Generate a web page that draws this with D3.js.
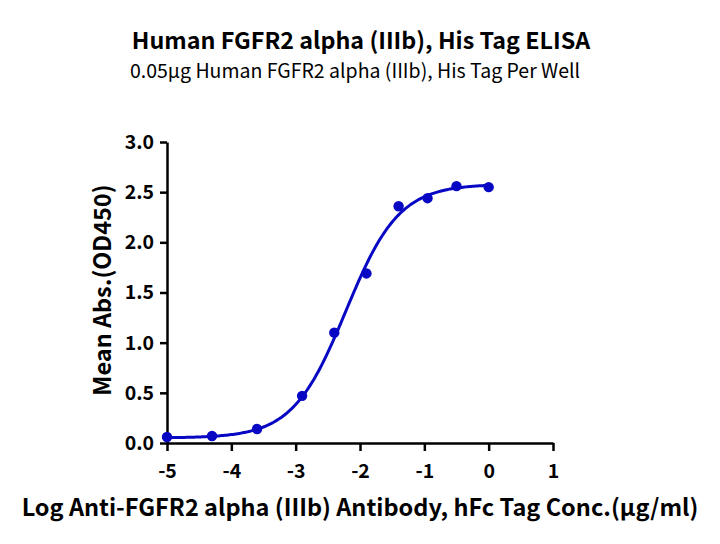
<!DOCTYPE html>
<html><head><meta charset="utf-8">
<script src="https://cdn.jsdelivr.net/npm/d3@7"></script>
<style>body{margin:0;background:#fff}svg{display:block}text{font-family:"Noto Sans CJK SC","Noto Sans",sans-serif}</style>
</head><body>
<script>
const logConc = [-5, -4.3, -3.6, -2.9, -2.4, -1.9, -1.4, -0.95, -0.5, 0];
const meanAbs = [0.06, 0.07, 0.14, 0.47, 1.10, 1.69, 2.36, 2.44, 2.56, 2.55];
const xTicks = [-5, -4, -3, -2, -1, 0, 1];
const yTicks = [0, 0.5, 1.0, 1.5, 2.0, 2.5, 3.0];
// 4PL fit parameters
const fitBottom = 0.05, fitTop = 2.58, fitLogEC50 = -2.22, fitHill = 1.05;

const W = 720, H = 544;
const svg = d3.select("body").append("svg").attr("width", W).attr("height", H);
const x = d3.scaleLinear().domain([-5, 1]).range([167, 553]);
const y = d3.scaleLinear().domain([0, 3]).range([443, 142]);
const blue = "#0808c4";
const ff = '"Noto Sans CJK SC","Noto Sans",sans-serif';

svg.append("text").attr("x", 361).attr("y", 49).attr("text-anchor", "middle")
  .attr("font-size", 23.3).attr("font-weight", "bold").text("Human FGFR2 alpha (IIIb), His Tag ELISA");
svg.append("text").attr("x", 355).attr("y", 78).attr("text-anchor", "middle")
  .attr("font-size", 19.5).text("0.05μg Human FGFR2 alpha (IIIb), His Tag Per Well");

const xAxis = svg.append("g").attr("transform", "translate(0,443)")
  .call(d3.axisBottom(x).tickValues(xTicks).tickFormat(d => String(d)).tickSize(8).tickSizeOuter(0));
const yAxis = svg.append("g").attr("transform", "translate(167,0)")
  .call(d3.axisLeft(y).tickValues(yTicks).tickFormat(d3.format(".1f")).tickSize(7).tickSizeOuter(0));
[xAxis, yAxis].forEach(g => {
  g.select(".domain").attr("stroke", "#000").attr("stroke-width", 2.5);
  g.selectAll(".tick line").attr("stroke", "#000").attr("stroke-width", 2.5);
  g.selectAll(".tick text").attr("font-size", 19.5).attr("font-weight", "bold").attr("fill", "#000")
   .attr("font-family", ff);
});
xAxis.selectAll(".tick text").attr("y", 35).attr("dy", null);
yAxis.selectAll(".tick text").attr("x", -13).attr("dy", "0.33em");

const fit = d => fitBottom + (fitTop - fitBottom) / (1 + Math.pow(10, (fitLogEC50 - d) * fitHill));
const curveX = d3.range(0, 201).map(i => -5 + i * 5 / 200);
svg.append("path").datum(curveX)
  .attr("d", d3.line().x(d => x(d)).y(d => y(fit(d))))
  .attr("fill", "none").attr("stroke", blue).attr("stroke-width", 3);

svg.selectAll("circle.pt").data(logConc).enter().append("circle")
  .attr("cx", d => x(d)).attr("cy", (d, i) => y(meanAbs[i])).attr("r", 5.2).attr("fill", blue);

svg.append("text").attr("x", 360).attr("y", 516).attr("text-anchor", "middle")
  .attr("font-size", 23.5).attr("font-weight", "bold").text("Log Anti-FGFR2 alpha (IIIb) Antibody, hFc Tag Conc.(μg/ml)");
svg.append("text").attr("transform", "translate(111,290) rotate(-90)").attr("text-anchor", "middle")
  .attr("font-size", 23.5).attr("font-weight", "bold").text("Mean Abs.(OD450)");
</script>
</body></html>
